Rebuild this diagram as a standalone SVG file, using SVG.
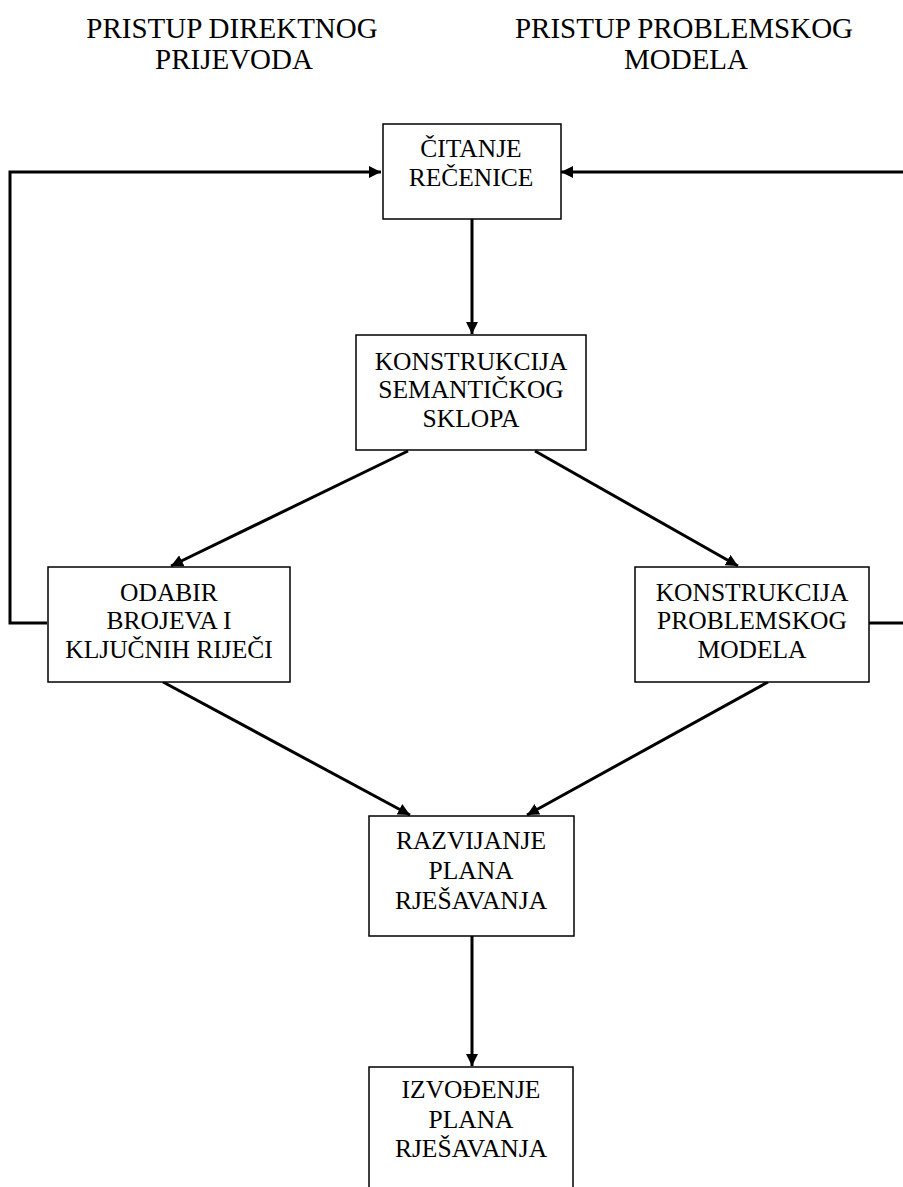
<svg xmlns="http://www.w3.org/2000/svg" width="903" height="1187" viewBox="0 0 903 1187">
<style>
.box{fill:#fff;stroke:#000;stroke-width:1.5}
.t{font-family:"Liberation Serif","Times New Roman",serif;font-size:25.5px;fill:#000;text-anchor:middle}
.h{font-family:"Liberation Serif","Times New Roman",serif;font-size:29px;fill:#000;text-anchor:middle}
.c{fill:none;stroke:#000;stroke-width:3}
</style>
<defs>
<marker id="ah" viewBox="0 0 12 12" refX="12" refY="6" markerWidth="12" markerHeight="12" markerUnits="userSpaceOnUse" orient="auto">
<path d="M0,0 L12,6 L0,12 z" fill="#000"/>
</marker>
</defs>
<g id="headers">
<text class="h" x="232" y="38">PRISTUP DIREKTNOG</text>
<text class="h" x="234" y="69">PRIJEVODA</text>
<text class="h" x="684" y="38">PRISTUP PROBLEMSKOG</text>
<text class="h" x="686" y="69">MODELA</text>
</g>
<g id="connectors">
<polyline class="c" points="47,623 10,623 10,172 381,172" marker-end="url(#ah)"/>
<polyline class="c" points="869,623 905,623 905,172 561,172" marker-end="url(#ah)"/>
<line class="c" x1="472" y1="219" x2="472" y2="334" marker-end="url(#ah)"/>
<line class="c" x1="408" y1="451" x2="171" y2="566" marker-end="url(#ah)"/>
<line class="c" x1="535" y1="451" x2="738" y2="566" marker-end="url(#ah)"/>
<line class="c" x1="163" y1="682" x2="410" y2="815" marker-end="url(#ah)"/>
<line class="c" x1="768" y1="682" x2="527" y2="815" marker-end="url(#ah)"/>
<line class="c" x1="472" y1="936" x2="472" y2="1066" marker-end="url(#ah)"/>
</g>
<g id="n1">
<rect class="box" x="383" y="124" width="178" height="95"/>
<text class="t" x="471" y="157">ČITANJE</text>
<text class="t" x="471" y="186">REČENICE</text>
</g>
<g id="n2">
<rect class="box" x="356" y="335" width="230" height="115"/>
<text class="t" x="471" y="370">KONSTRUKCIJA</text>
<text class="t" x="471" y="398">SEMANTIČKOG</text>
<text class="t" x="471" y="427">SKLOPA</text>
</g>
<g id="n3">
<rect class="box" x="48" y="567" width="242" height="115"/>
<text class="t" x="169" y="601">ODABIR</text>
<text class="t" x="169" y="629">BROJEVA I</text>
<text class="t" x="169" y="658">KLJUČNIH RIJEČI</text>
</g>
<g id="n4">
<rect class="box" x="635" y="567" width="234" height="115"/>
<text class="t" x="752" y="601">KONSTRUKCIJA</text>
<text class="t" x="752" y="629">PROBLEMSKOG</text>
<text class="t" x="752" y="658">MODELA</text>
</g>
<g id="n5">
<rect class="box" x="369" y="816" width="205" height="120"/>
<text class="t" x="471" y="849">RAZVIJANJE</text>
<text class="t" x="471" y="879">PLANA</text>
<text class="t" x="471" y="909">RJEŠAVANJA</text>
</g>
<g id="n6">
<rect class="box" x="369" y="1067" width="204" height="130"/>
<text class="t" x="471" y="1098">IZVOĐENJE</text>
<text class="t" x="471" y="1128">PLANA</text>
<text class="t" x="471" y="1157">RJEŠAVANJA</text>
</g>
</svg>
